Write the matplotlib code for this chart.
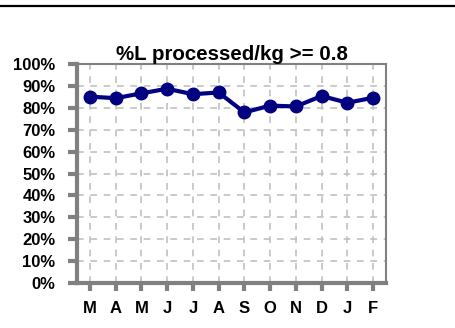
import matplotlib
matplotlib.use("Agg")
import matplotlib.pyplot as plt
from matplotlib.lines import Line2D

months = ["M", "A", "M", "J", "J", "A", "S", "O", "N", "D", "J", "F"]
values = [85.1, 84.4, 86.6, 88.7, 86.2, 87.0, 77.9, 81.0, 80.6, 85.4, 82.3, 84.6]
y_ticks = [0, 10, 20, 30, 40, 50, 60, 70, 80, 90, 100]
y_labels = [f"{v}%" for v in y_ticks]
title = "%L processed/kg >= 0.8"

plt.rcParams['font.family'] = ['Liberation Sans', 'DejaVu Sans']

fig = plt.figure(figsize=(4.56, 3.28), dpi=100)
ax = fig.add_axes([77/456, 1-283/328, (386-77)/456, (283-64)/328])

x = list(range(len(months)))
ax.plot(x, values, color='#000080', lw=3, marker='o', ms=9, mew=1,
        zorder=3, clip_on=False)

ax.set_xlim(-0.5, len(months)-0.5)
ax.set_ylim(0, 100)
ax.set_yticks(y_ticks)
ax.set_yticklabels(y_labels, fontsize=12, fontweight='bold')
ax.set_xticks(x)
ax.set_xticklabels(months, fontsize=12, fontweight='bold')

ax.grid(True, color='#c0c0c0', linestyle=(0, (4, 4)), lw=1.2)
ax.set_axisbelow(True)

for s in ['left', 'bottom']:
    ax.spines[s].set_color('#808080')
    ax.spines[s].set_linewidth(3)
for s in ['right', 'top']:
    ax.spines[s].set_color('#808080')
    ax.spines[s].set_linewidth(1.5)

ax.tick_params(axis='y', length=6.5, width=3, color='#808080', pad=9)
ax.tick_params(axis='x', length=6, width=3, color='#808080', pad=7)

ax.set_title(title, fontsize=14.8, fontweight='bold', pad=1.5)

fig.add_artist(Line2D([0, 1], [1-6/328, 1-6/328], color='black', lw=1.6,
                      transform=fig.transFigure))

fig.savefig("out.png", dpi=100)
